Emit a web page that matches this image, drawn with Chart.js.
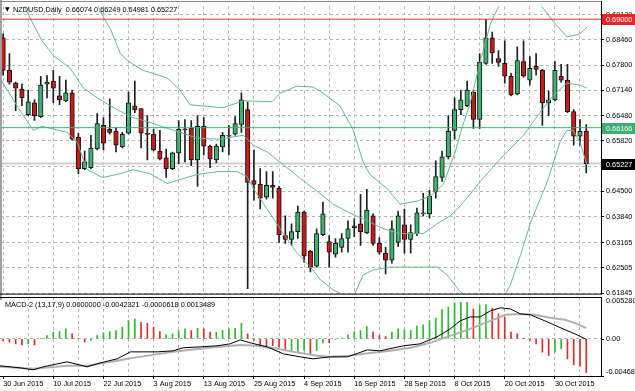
<!DOCTYPE html>
<html>
<head>
<meta charset="utf-8">
<script src="https://cdn.jsdelivr.net/npm/chart.js@4.4.1/dist/chart.umd.min.js"></script>
<style>
  body { margin: 0; background: #fff; }
  #box { position: relative; width: 635px; height: 391px; overflow: hidden; background: #fff; }
  #price { position: absolute; left: 0; top: 0; }
  #macd { position: absolute; left: 0; top: 288px; }
</style>
</head>
<body>
<div id="box">
  <canvas id="price" width="635" height="300"></canvas>
  <canvas id="macd" width="635" height="103"></canvas>
</div>
<script>
// NZDUSD daily, 30 Jun 2015 .. 6 Nov 2015 (one bar per trading day)
const dateLabels = ['30 Jun 2015', '10 Jul 2015', '22 Jul 2015', '3 Aug 2015', '13 Aug 2015', '25 Aug 2015',
  '4 Sep 2015', '16 Sep 2015', '28 Sep 2015', '8 Oct 2015', '20 Oct 2015', '30 Oct 2015'];

const opens = [
  0.68512, 0.67664, 0.67330, 0.67176, 0.66508, 0.66816, 0.66456, 0.67304, 0.67381, 0.66996,
  0.66867, 0.67073, 0.65917, 0.65094, 0.65120, 0.65608, 0.66225, 0.66122, 0.66071, 0.65660,
  0.66019, 0.66739, 0.66662, 0.65994, 0.65994, 0.65557, 0.65377, 0.65094, 0.65506, 0.66122,
  0.66148, 0.65325, 0.66199, 0.65685, 0.65325, 0.65660, 0.65942, 0.65994, 0.66251, 0.66636,
  0.64785, 0.64683, 0.64349, 0.64657, 0.64580, 0.63347, 0.63244, 0.63449, 0.63963, 0.62935,
  0.62550, 0.63372, 0.63192, 0.62858, 0.63038, 0.63269, 0.63552, 0.63655, 0.63424, 0.63861,
  0.63141, 0.62884, 0.62704, 0.63166, 0.63630, 0.63244, 0.63398, 0.63912, 0.63912, 0.64503,
  0.64863, 0.65403, 0.66096, 0.66636, 0.66739, 0.67099, 0.66379, 0.67844, 0.68512, 0.67973,
  0.67844, 0.67510, 0.67047, 0.67896, 0.67407, 0.67767, 0.67664, 0.66816, 0.66893, 0.67510,
  0.67407, 0.66585, 0.65942, 0.66074];
const highs = [
  0.68615, 0.68101, 0.67356, 0.67304, 0.67150, 0.66893, 0.67510, 0.67536, 0.67664, 0.67510,
  0.67407, 0.67150, 0.66019, 0.65557, 0.65968, 0.66533, 0.66430, 0.66919, 0.66174, 0.66045,
  0.67099, 0.67381, 0.66662, 0.66482, 0.66122, 0.66096, 0.65608, 0.65531, 0.66353, 0.66379,
  0.66353, 0.66482, 0.66430, 0.65711, 0.65737, 0.66045, 0.66225, 0.66456, 0.67073, 0.66842,
  0.65582, 0.65094, 0.65017, 0.65017, 0.64632, 0.63861, 0.63655, 0.64118, 0.63989, 0.62961,
  0.63526, 0.64220, 0.63347, 0.63269, 0.63398, 0.63732, 0.63784, 0.64426, 0.64554, 0.63912,
  0.63295, 0.63038, 0.63732, 0.63989, 0.64040, 0.63630, 0.64066, 0.64452, 0.64529, 0.65300,
  0.65557, 0.66482, 0.66944, 0.67150, 0.67381, 0.67150, 0.68101, 0.68990, 0.68666, 0.68178,
  0.68435, 0.67587, 0.68281, 0.68435, 0.68024, 0.68101, 0.67690, 0.67124, 0.67895, 0.67818,
  0.67818, 0.66636, 0.66379, 0.66249];
const lows = [
  0.67536, 0.67304, 0.66610, 0.66739, 0.66482, 0.66353, 0.66431, 0.66945, 0.66816, 0.66765,
  0.66842, 0.65840, 0.64966, 0.65068, 0.65094, 0.65583, 0.65583, 0.65994, 0.65531, 0.65634,
  0.65994, 0.66559, 0.65634, 0.65325, 0.65557, 0.65325, 0.64863, 0.65068, 0.65223, 0.65274,
  0.65171, 0.64631, 0.65454, 0.65120, 0.65248, 0.65531, 0.65454, 0.65968, 0.66045, 0.61959,
  0.64272, 0.64040, 0.64297, 0.64323, 0.63167, 0.63141, 0.63090, 0.63269, 0.62653, 0.62396,
  0.62524, 0.63347, 0.62524, 0.62781, 0.62910, 0.62910, 0.63321, 0.63090, 0.63398, 0.63090,
  0.62858, 0.62344, 0.62627, 0.63064, 0.62884, 0.62884, 0.63347, 0.63861, 0.63809, 0.64323,
  0.64760, 0.65351, 0.65865, 0.66508, 0.66713, 0.66148, 0.66148, 0.67818, 0.67844, 0.67767,
  0.67330, 0.66996, 0.67022, 0.67484, 0.67278, 0.67536, 0.66225, 0.66482, 0.66867, 0.67356,
  0.66559, 0.65711, 0.65711, 0.64981];
const closes = [
  0.67664, 0.67356, 0.67201, 0.66945, 0.66842, 0.66482, 0.67278, 0.67356, 0.67201, 0.66893,
  0.67073, 0.65865, 0.65094, 0.65274, 0.65634, 0.66276, 0.65763, 0.66045, 0.65711, 0.65994,
  0.66816, 0.66636, 0.66019, 0.65990, 0.65583, 0.65351, 0.65094, 0.65506, 0.66122, 0.66110,
  0.65325, 0.66199, 0.65685, 0.65351, 0.65685, 0.65968, 0.65968, 0.66276, 0.66893, 0.64734,
  0.64683, 0.64323, 0.64657, 0.64606, 0.63372, 0.63244, 0.63449, 0.63963, 0.62807, 0.62524,
  0.63398, 0.63912, 0.62910, 0.63141, 0.63269, 0.63526, 0.63603, 0.63449, 0.64015, 0.63141,
  0.62910, 0.62704, 0.63526, 0.63861, 0.63244, 0.63424, 0.63938, 0.63920, 0.64374, 0.64888,
  0.65403, 0.66071, 0.66636, 0.66893, 0.67150, 0.66379, 0.67870, 0.68512, 0.68127, 0.67870,
  0.67510, 0.67022, 0.67921, 0.67510, 0.67716, 0.67690, 0.66816, 0.66893, 0.67664, 0.67407,
  0.66585, 0.65942, 0.66071, 0.65227];

// bollinger bands: [bar, price]
const bbUpper = [[14, 0.6990], [15.0, 0.69386], [16, 0.69050], [17.1, 0.68744], [18.7, 0.68101], [19.8, 0.67921],
  [22.3, 0.67664], [23.9, 0.67587], [26.2, 0.67459], [28.2, 0.67150], [29.8, 0.66765], [31.4, 0.66739],
  [35.1, 0.66688], [38.3, 0.66867], [42.9, 0.66842], [44.2, 0.67073], [46.9, 0.67253], [49.4, 0.67227],
  [51.0, 0.67073], [53.7, 0.66739], [55.8, 0.66122], [57.4, 0.65274], [58.5, 0.64940], [61.2, 0.64580],
  [63.3, 0.64169], [66.0, 0.64246], [68.1, 0.64375], [70.2, 0.64683], [72.1, 0.65531], [73.2, 0.66174],
  [74.5, 0.66816], [76.1, 0.67895], [77.7, 0.68872], [78.8, 0.69258], [80.1, 0.69592], [82.5, 0.69772],
  [84.8, 0.69515], [85.9, 0.69335], [87.7, 0.68949], [89.9, 0.68538], [92.0, 0.68615], [93.1, 0.68795]];
const bbMiddle = [[-0.5, 0.69694], [3.2, 0.69386], [4.8, 0.68872], [6.2, 0.68435], [8.0, 0.68050], [10.7, 0.67716],
  [12.8, 0.67201], [15.5, 0.66893], [18.2, 0.66636], [20.7, 0.66431], [23.4, 0.66302], [26.2, 0.66148],
  [28.7, 0.66019], [30.9, 0.65891], [34.6, 0.65865], [38.3, 0.65968], [39.9, 0.65711], [42.1, 0.65531],
  [44.7, 0.65197], [47.4, 0.64837], [50.1, 0.64503], [52.6, 0.64169], [55.3, 0.63938], [58.1, 0.63732],
  [60.6, 0.63526], [63.3, 0.63398], [67.0, 0.63398], [69.2, 0.63655], [71.3, 0.63861], [72.9, 0.64118],
  [76.1, 0.64760], [79.3, 0.65351], [83.0, 0.65968], [85.6, 0.66559], [87.7, 0.66996], [89.9, 0.67330],
  [92.0, 0.67279], [93.1, 0.67201]];
const bbLower = [[-0.5, 0.67459], [2.2, 0.66739], [4.8, 0.66096], [6.2, 0.66199], [10.2, 0.66045], [11.8, 0.65788],
  [13.4, 0.65068], [15.9, 0.64863], [18.7, 0.64966], [20.7, 0.65068], [23.4, 0.64966], [26.2, 0.64709],
  [28.7, 0.64837], [30.9, 0.64940], [34.1, 0.65017], [37.3, 0.65017], [38.9, 0.64889], [39.9, 0.64580],
  [42.3, 0.63989], [44.7, 0.63398], [46.9, 0.62884], [49.0, 0.62524], [50.6, 0.62190], [52.6, 0.61933],
  [54.5, 0.61779], [56.1, 0.61830], [57.4, 0.62318], [59.0, 0.62447], [61.7, 0.62524], [69.2, 0.62524],
  [70.8, 0.62318], [72.9, 0.61882], [75.3, 0.61600], [79.3, 0.61600], [80.9, 0.62061], [82.5, 0.62833],
  [84.1, 0.63681], [86.8, 0.64760], [88.8, 0.65788], [89.9, 0.66096], [90.9, 0.66096], [92.0, 0.65788],
  [93.1, 0.65197]];

const priceTicks = [0.69120, 0.68460, 0.67800, 0.67140, 0.66480, 0.65820, 0.65160, 0.64500, 0.63840, 0.63165, 0.62505, 0.61845];
const levelRed = 0.69000;
const levelGreen = 0.66166;
const lastPrice = 0.65227;
const titleText = 'NZDUSD,Daily  0.66074 0.66249 0.64981 0.65227';

// MACD-2 (13,17,9): up / down histogram buffers, main and signal lines
const macdUp = [
  null, null, null, null, -0.00063, null, 0.00005, 0.00042, 0.00084, 0.00092,
  0.00126, null, null, null, -0.00021, 0.00042, 0.00076, 0.00092, 0.00105, 0.00147,
  0.00231, 0.00252, null, null, null, null, 0.00050, 0.00063, 0.00105, 0.00126,
  null, 0.00134, null, null, 0.00084, 0.00105, 0.00126, 0.00134, 0.00197, null,
  null, null, null, null, null, null, -0.00147, -0.00168, -0.00147, null,
  -0.00147, -0.00050, null, -0.00005, 0.00010, 0.00050, 0.00092, 0.00105, 0.00155, null,
  null, null, 0.00084, 0.00126, 0.00113, 0.00105, 0.00160, 0.00177, 0.00231, 0.00261,
  0.00370, 0.00400, 0.00454, 0.00462, 0.00462, null, 0.00420, 0.00429, null, null,
  null, null, null, null, null, null, null, null, -0.00168, -0.00126,
  null, null, null, null];
const macdDown = [
  -0.00030, -0.00042, -0.00063, -0.00076, null, -0.00076, null, null, null, null,
  null, 0.00063, 0.00005, -0.00042, null, null, null, null, null, null,
  null, null, 0.00210, 0.00197, 0.00147, 0.00092, null, null, null, null,
  0.00105, null, 0.00126, 0.00084, null, null, null, null, null, 0.00063,
  -0.00021, -0.00084, -0.00092, -0.00084, -0.00105, -0.00147, null, null, null, -0.00189,
  null, null, -0.00050, null, null, null, null, null, null, 0.00084,
  0.00042, 0.00029, null, null, null, null, null, null, null, null,
  null, null, null, null, null, 0.00378, null, null, 0.00387, 0.00315,
  0.00273, 0.00084, 0.00063, 0.00003, -0.00021, -0.00063, -0.00168, -0.00210, null, null,
  -0.00252, -0.00328, -0.00345, -0.0042321];
const macdMain = [[-0.5, -0.00340], [2.7, -0.00366], [4.8, -0.00391], [6.4, -0.00353], [10.2, -0.00290],
  [13.4, -0.00353], [15.5, -0.00303], [18.2, -0.00252], [20.3, -0.00164], [22.3, -0.00164], [24.6, -0.00164],
  [27.1, -0.00151], [28.7, -0.00113], [31.4, -0.00101], [34.1, -0.00088], [36.2, -0.00063], [37.8, -0.00013],
  [39.4, -0.00050], [42.1, -0.00101], [44.7, -0.00189], [47.4, -0.00227], [49.4, -0.00252], [52.2, -0.00227],
  [54.9, -0.00227], [58.1, -0.00139], [60.1, -0.00151], [63.8, -0.00088], [66.5, -0.00063], [69.2, 0.00025],
  [71.3, 0.00126], [72.9, 0.00227], [74.5, 0.00277], [76.1, 0.00277], [77.7, 0.00353], [79.3, 0.00391],
  [80.9, 0.00378], [82.5, 0.00315], [84.1, 0.00303], [86.4, 0.00227], [89.3, 0.00126], [91.2, 0.00063],
  [93, -0.0000618]];
const macdSignal = [[-0.5, -0.00353], [4.8, -0.00378], [10.2, -0.00340], [13.4, -0.00340], [18.2, -0.00277],
  [20.7, -0.00240], [23.9, -0.00202], [27.1, -0.00164], [31.4, -0.00126], [34.6, -0.00101], [37.8, -0.00076],
  [40.5, -0.00088], [43.7, -0.00126], [46.3, -0.00164], [50.1, -0.00214], [52.2, -0.00227], [55.3, -0.00214],
  [58.5, -0.00177], [61.7, -0.00151], [65.0, -0.00113], [68.1, -0.00050], [71.3, 0.00038], [74.5, 0.00126],
  [77.7, 0.00227], [80.1, 0.00303], [82.5, 0.00315], [84.8, 0.00303], [87.2, 0.00265], [89.6, 0.00240],
  [91.5, 0.00189], [93, 0.0013489]];
const macdMax = 0.005280;
const macdMin = -0.004685;

// --- styles
const FONT = '"Liberation Sans", Arial, sans-serif';
Chart.defaults.font.family = FONT;
Chart.defaults.font.size = 7.3;
Chart.defaults.color = '#000';

const xMin = -0.5, xMax = 95.35;
const gridColor = '#b4b4b4';
const bandColor = '#62bb8f';
const bullColor = '#3cb371';
const bearColor = '#c81a1a';

const pts = arr => arr.map(p => ({ x: p[0], y: p[1] }));
const hline = v => [{ x: xMin, y: v }, { x: xMax, y: v }];
const barTicks = scale => {
  const t = [];
  for (let i = 0; i <= 92; i += 4) t.push({ value: i });
  scale.ticks = t;
};

// ---------- price panel
const priceDecor = {
  id: 'priceDecor',
  afterDraw(chart) {
    const { ctx, chartArea: a, scales: { y } } = chart;
    ctx.save();
    // frame
    ctx.strokeStyle = '#a0a0a0';
    ctx.lineWidth = 2;
    ctx.beginPath(); ctx.moveTo(1, 0); ctx.lineTo(1, 300); ctx.stroke();
    ctx.lineWidth = 1;
    ctx.strokeStyle = '#8a8a8a';
    ctx.beginPath(); ctx.moveTo(0, 1.5); ctx.lineTo(a.right, 1.5); ctx.stroke();
    ctx.strokeStyle = '#000';
    ctx.beginPath(); ctx.moveTo(a.right + 0.5, 1); ctx.lineTo(a.right + 0.5, a.bottom + 1); ctx.stroke();
    ctx.beginPath(); ctx.moveTo(0, a.bottom + 0.5); ctx.lineTo(a.right + 1, a.bottom + 0.5); ctx.stroke();

    // price tags on the axis
    ctx.font = '7.3px ' + FONT;
    ctx.textBaseline = 'middle';
    [[levelRed, '#e52626'], [levelGreen, '#3cae72'], [lastPrice, '#000']].forEach(([v, bg]) => {
      const py = Math.round(y.getPixelForValue(v));
      ctx.fillStyle = bg;
      ctx.fillRect(a.right + 1, py - 5, 40, 11);
      ctx.fillStyle = '#fff';
      ctx.fillText(v.toFixed(5), a.right + 5, py + 0.5);
    });

    // title
    ctx.fillStyle = '#000';
    ctx.font = '6px "DejaVu Sans"';
    ctx.fillText('\u25BC', 5, 9.5);
    ctx.font = '7.3px ' + FONT;
    ctx.fillText(titleText, 13, 9.5);
    ctx.restore();
  }
};

new Chart(document.getElementById('price'), {
  type: 'bar',
  data: {
    datasets: [
      { type: 'line', data: hline(lastPrice), borderColor: '#cfcfcf', borderWidth: 2, pointRadius: 0, order: 10 },
      {
        type: 'bar', grouped: false, order: 9,
        data: highs.map((h, i) => ({ x: i, y: [lows[i], h] })),
        backgroundColor: '#1e1e1e', barThickness: 1
      },
      {
        type: 'bar', grouped: false, order: 8,
        data: opens.map((o, i) => ({ x: i, y: [o, closes[i]] })),
        backgroundColor: opens.map((o, i) => closes[i] >= o ? bullColor : bearColor),
        borderColor: '#111', borderWidth: 1, borderSkipped: false, barThickness: 4.5, minBarLength: 1
      },
      { type: 'line', data: pts(bbUpper), borderColor: bandColor, borderWidth: 1, pointRadius: 0, order: 3 },
      { type: 'line', data: pts(bbMiddle), borderColor: bandColor, borderWidth: 1, pointRadius: 0, order: 3 },
      { type: 'line', data: pts(bbLower), borderColor: bandColor, borderWidth: 1, pointRadius: 0, order: 3 },
      { type: 'line', data: hline(levelRed), borderColor: '#e03030', borderWidth: 1, pointRadius: 0, order: 1 },
      { type: 'line', data: hline(levelGreen), borderColor: '#3cae72', borderWidth: 1, pointRadius: 0, order: 1 }
    ]
  },
  options: {
    responsive: false,
    animation: false,
    devicePixelRatio: 1,
    events: [],
    layout: { padding: { top: 2, bottom: 6, left: 0, right: 0 } },
    plugins: { legend: { display: false }, tooltip: { enabled: false } },
    scales: {
      x: {
        type: 'linear', min: xMin, max: xMax, offset: false,
        afterBuildTicks: barTicks,
        afterFit: s => { s.height = 0; },
        ticks: { display: false },
        border: { display: false, dash: [3, 3] },
        grid: { color: gridColor, drawTicks: false, offset: false }
      },
      y: {
        position: 'right', min: 0.61830, max: 0.69335,
        afterBuildTicks: s => { s.ticks = priceTicks.map(v => ({ value: v })); },
        afterFit: s => { s.width = 34; },
        ticks: { padding: 2, callback: v => v.toFixed(5) },
        border: { display: false, dash: [3, 3] },
        grid: { color: gridColor, tickLength: 3, tickColor: '#000' }
      }
    }
  },
  plugins: [priceDecor]
});

// ---------- MACD panel
const macdDecor = {
  id: 'macdDecor',
  afterDraw(chart) {
    const { ctx, chartArea: a, scales: { y } } = chart;
    ctx.save();
    ctx.strokeStyle = '#000';
    ctx.lineWidth = 1;
    ctx.beginPath(); ctx.moveTo(0, a.top + 0.5); ctx.lineTo(a.right + 1, a.top + 0.5); ctx.stroke();
    ctx.beginPath(); ctx.moveTo(0, a.bottom + 0.5); ctx.lineTo(a.right + 1, a.bottom + 0.5); ctx.stroke();
    ctx.beginPath(); ctx.moveTo(a.right + 0.5, a.top); ctx.lineTo(a.right + 0.5, a.bottom + 1); ctx.stroke();

    ctx.fillStyle = '#000';
    ctx.font = '7.3px ' + FONT;
    ctx.textBaseline = 'middle';
    const tx = a.right + 5;
    ctx.fillText(macdMax.toFixed(6), tx, y.getPixelForValue(macdMax) + 4);
    ctx.fillText('0.00', tx, y.getPixelForValue(0));
    ctx.fillText(macdMin.toFixed(6), tx, y.getPixelForValue(macdMin) - 4);
    [0, macdMin].forEach(v => {
      const py = Math.round(y.getPixelForValue(v)) + 0.5;
      ctx.beginPath(); ctx.moveTo(a.right, py); ctx.lineTo(a.right + 3, py); ctx.stroke();
    });
    ctx.fillText('MACD-2 (13,17,9) 0.0000000 -0.0042321 -0.0000618 0.0013489', 5, a.top + 8);
    ctx.restore();
  }
};

const histPts = arr => arr.map((v, i) => (v === null ? null : { x: i, y: v })).filter(p => p);

new Chart(document.getElementById('macd'), {
  type: 'bar',
  data: {
    datasets: [
      { type: 'bar', grouped: false, order: 5, data: histPts(macdUp), backgroundColor: '#2fb52f', barThickness: 1 },
      { type: 'bar', grouped: false, order: 5, data: histPts(macdDown), backgroundColor: '#dd2a2a', barThickness: 1 },
      { type: 'line', data: pts(macdSignal), borderColor: '#b0b0b0', borderWidth: 2, pointRadius: 0, order: 2 },
      { type: 'line', data: pts(macdMain), borderColor: '#000', borderWidth: 1, pointRadius: 0, order: 1 }
    ]
  },
  options: {
    responsive: false,
    animation: false,
    devicePixelRatio: 1,
    events: [],
    layout: { padding: { top: 9, bottom: 0, left: 0, right: 0 } },
    plugins: { legend: { display: false }, tooltip: { enabled: false } },
    scales: {
      x: {
        type: 'linear', min: xMin, max: xMax, offset: false,
        afterBuildTicks: barTicks,
        afterFit: s => { s.height = 15; },
        ticks: {
          align: 'start', padding: 1, maxRotation: 0, minRotation: 0, autoSkip: false,
          callback: v => (v % 8 === 0 ? dateLabels[v / 8] : '')
        },
        border: { display: false, dash: [3, 3] },
        grid: {
          offset: false, tickLength: 3,
          color: c => (c.tick && c.tick.value === 0 ? 'rgba(0,0,0,0)' : gridColor),
          tickColor: c => (c.tick && c.tick.value % 8 === 0 ? '#000' : 'rgba(0,0,0,0)')
        }
      },
      y: {
        position: 'right', min: macdMin, max: macdMax,
        afterBuildTicks: s => { s.ticks = [{ value: 0 }]; },
        afterFit: s => { s.width = 34; },
        ticks: { display: false },
        border: { display: false, dash: [3, 3] },
        grid: { color: gridColor, drawTicks: false }
      }
    }
  },
  plugins: [macdDecor]
});
</script>
</body>
</html>
